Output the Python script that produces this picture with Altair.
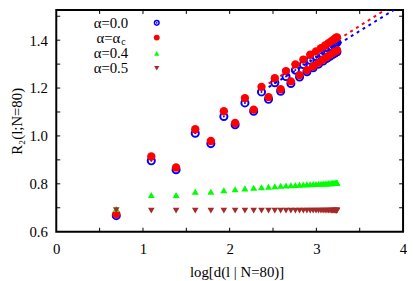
import altair as alt
import pandas as pd

# x: log[d(l | N=80)] for l = 2..40
log_d = [0.692, 1.096, 1.382, 1.603, 1.783, 1.933, 2.063, 2.176, 2.277, 2.367,
         2.448, 2.521, 2.588, 2.650, 2.706, 2.758, 2.806, 2.850, 2.891, 2.929,
         2.963, 2.996, 3.025, 3.053, 3.078, 3.101, 3.122, 3.141, 3.158, 3.174,
         3.187, 3.199, 3.209, 3.218, 3.225, 3.230, 3.234, 3.237, 3.237]

r2_alpha_00 = [0.667, 0.896, 0.859, 1.011, 0.968, 1.081, 1.047, 1.138, 1.103, 1.184,
               1.153, 1.222, 1.187, 1.248, 1.219, 1.275, 1.246, 1.298, 1.268, 1.316,
               1.285, 1.332, 1.300, 1.345, 1.313, 1.356, 1.324, 1.366, 1.333, 1.374,
               1.340, 1.380, 1.345, 1.385, 1.349, 1.388, 1.351, 1.390, 1.352]

r2_alpha_c = [0.674, 0.914, 0.868, 1.028, 0.979, 1.103, 1.054, 1.158, 1.110, 1.205,
              1.162, 1.241, 1.195, 1.271, 1.228, 1.299, 1.254, 1.319, 1.275, 1.339,
              1.291, 1.353, 1.306, 1.367, 1.319, 1.378, 1.330, 1.388, 1.339, 1.396,
              1.346, 1.402, 1.351, 1.407, 1.355, 1.410, 1.357, 1.412, 1.358]

r2_alpha_04 = [0.695, 0.753, 0.753, 0.767, 0.767, 0.773, 0.777, 0.781, 0.784, 0.786,
               0.788, 0.790, 0.792, 0.793, 0.794, 0.795, 0.796, 0.797, 0.798, 0.798,
               0.799, 0.799, 0.800, 0.800, 0.801, 0.801, 0.801, 0.802, 0.802, 0.802,
               0.803, 0.803, 0.803, 0.803, 0.804, 0.804, 0.804, 0.804, 0.804]

r2_alpha_05 = [0.690, 0.688, 0.688, 0.688, 0.688, 0.688, 0.688, 0.688, 0.688, 0.688,
               0.688, 0.688, 0.688, 0.688, 0.688, 0.688, 0.688, 0.688, 0.688, 0.688,
               0.688, 0.688, 0.688, 0.688, 0.688, 0.688, 0.688, 0.688, 0.688, 0.688,
               0.688, 0.688, 0.688, 0.688, 0.688, 0.688, 0.688, 0.688, 0.688]

# dashed fit lines
fit_x = [2.45, 4.0]
fit_alpha_00 = [1.204, 1.550]
fit_alpha_c = [1.219, 1.574]

x_label_values = [0, 1, 2, 3, 4]
y_label_values = [0.6, 0.8, 1.0, 1.2, 1.4]
x_tick_values = [0.5, 1.0, 1.5, 2.0, 2.5, 3.0, 3.5]
y_tick_values = [0.7, 0.8, 0.9, 1.0, 1.1, 1.2, 1.3, 1.4, 1.5]

legend_labels = ["α=0.0", "α=α", "α=0.4", "α=0.5"]

BLUE = "#0000ff"
RED = "#ff0000"
GREEN = "#00ff00"
BROWN = "#a52a2a"
FONT = "Liberation Serif"

W, H = 352, 225
xs = alt.Scale(domain=[0, 4], nice=False, zero=False)
ys = alt.Scale(domain=[0.6, 1.526], nice=False, zero=False)

df = pd.DataFrame({"x": log_d, "a00": r2_alpha_00, "ac": r2_alpha_c,
                   "a04": r2_alpha_04, "a05": r2_alpha_05})
fit_df = pd.DataFrame({"x": fit_x, "a00": fit_alpha_00, "ac": fit_alpha_c})
xt_df = pd.DataFrame({"x": x_tick_values})
yt_df = pd.DataFrame({"y": y_tick_values})
one = pd.DataFrame({"k": [0]})

x_axis = alt.Axis(values=x_label_values, format="d", title="log[d(l | N=80)]",
                  domain=False, ticks=False, grid=False, labelPadding=10,
                  labelFont=FONT, labelFontSize=15, labelColor="black",
                  titleFont=FONT, titleFontSize=15, titleFontWeight="normal",
                  titleColor="black", titlePadding=8, titleX=183, labelFlush=False)
y_axis = alt.Axis(values=y_label_values, format=".1f", title="R₂(l;N=80)",
                  domain=False, ticks=False, grid=False, labelPadding=9,
                  labelFont=FONT, labelFontSize=15, labelColor="black",
                  titleFont=FONT, titleFontSize=15, titleFontWeight="normal",
                  titleColor="black", titlePadding=5, labelFlush=False)

def X(field):
    return alt.X(f"{field}:Q", scale=xs, axis=x_axis)

def Y(field):
    return alt.Y(f"{field}:Q", scale=ys, axis=y_axis)

base = alt.Chart(df)

blue_pts = base.mark_point(shape="circle", filled=False, stroke=BLUE, strokeWidth=2,
                           size=52, opacity=1).encode(x=X("x"), y=Y("a00"))
blue_dot = base.mark_point(shape="circle", filled=True, color=BLUE, size=4,
                           opacity=1).encode(x=X("x"), y=Y("a00"))
red_pts = base.mark_point(shape="circle", filled=True, color=RED, size=72,
                          opacity=1).encode(x=X("x"), y=Y("ac"))
green_pts = base.mark_point(shape="triangle-up", filled=True, color=GREEN, size=50,
                            opacity=1).encode(x=X("x"), y=Y("a04"))
brown_pts = base.mark_point(shape="triangle-down", filled=True, color=BROWN, size=45,
                            opacity=1).encode(x=X("x"), y=Y("a05"))

fit_base = alt.Chart(fit_df)
blue_fit = fit_base.mark_line(color=BLUE, strokeDash=[3, 4], strokeWidth=2,
                              clip=True).encode(x=X("x"), y=Y("a00"))
red_fit = fit_base.mark_line(color=RED, strokeDash=[3, 4], strokeWidth=2,
                             clip=True).encode(x=X("x"), y=Y("ac"))

# inward ticks
tick_len = 4
bt = alt.Chart(xt_df).mark_rule(color="black", strokeWidth=1).encode(
    x=X("x"), y=alt.value(H), y2=alt.value(H - tick_len))
tt = alt.Chart(xt_df).mark_rule(color="black", strokeWidth=1).encode(
    x=X("x"), y=alt.value(0), y2=alt.value(tick_len))
lt = alt.Chart(yt_df).mark_rule(color="black", strokeWidth=1).encode(
    y=Y("y"), x=alt.value(0), x2=alt.value(tick_len))
rt = alt.Chart(yt_df).mark_rule(color="black", strokeWidth=1).encode(
    y=Y("y"), x=alt.value(W), x2=alt.value(W - tick_len))

# legend (manual, positioned in pixels inside the plot)
leg_rows = [13, 28, 44, 59]
leg_text_x = 73
leg_sym_x = 102
leg = []
for i, lab in enumerate(legend_labels):
    tx = leg_text_x if i != 1 else 65
    leg.append(alt.Chart(one).mark_text(font=FONT, fontSize=15, align="right",
                                        baseline="middle", color="black").encode(
        x=alt.value(tx), y=alt.value(leg_rows[i]), text=alt.value(lab)))
leg.append(alt.Chart(one).mark_text(font=FONT, fontSize=10, align="left",
                                    baseline="middle", color="black").encode(
    x=alt.value(66), y=alt.value(leg_rows[1] + 5), text=alt.value("c")))
leg.append(alt.Chart(one).mark_point(shape="circle", filled=False, stroke=BLUE,
                                     strokeWidth=1.5, size=22, opacity=1).encode(
    x=alt.value(leg_sym_x), y=alt.value(leg_rows[0])))
leg.append(alt.Chart(one).mark_point(shape="circle", filled=True, color=BLUE,
                                     size=3, opacity=1).encode(
    x=alt.value(leg_sym_x), y=alt.value(leg_rows[0])))
leg.append(alt.Chart(one).mark_point(shape="circle", filled=True, color=RED,
                                     size=36, opacity=1).encode(
    x=alt.value(leg_sym_x), y=alt.value(leg_rows[1])))
leg.append(alt.Chart(one).mark_point(shape="triangle-up", filled=True, color=GREEN,
                                     size=28, opacity=1).encode(
    x=alt.value(leg_sym_x), y=alt.value(leg_rows[2])))
leg.append(alt.Chart(one).mark_point(shape="triangle-down", filled=True, color=BROWN,
                                     size=28, opacity=1).encode(
    x=alt.value(leg_sym_x), y=alt.value(leg_rows[3])))

chart = alt.layer(
    blue_pts, blue_dot, red_pts, green_pts, brown_pts, blue_fit, red_fit,
    bt, tt, lt, rt, *leg
).properties(
    width=W, height=H,
    background="white",
    autosize=alt.AutoSizeParams(type="none"),
    padding={"left": 49, "top": 0, "right": 4, "bottom": 48},
).configure_view(
    stroke="black", strokeWidth=2
)

chart.save("out.html", embed_options={"renderer": "svg", "actions": False})
